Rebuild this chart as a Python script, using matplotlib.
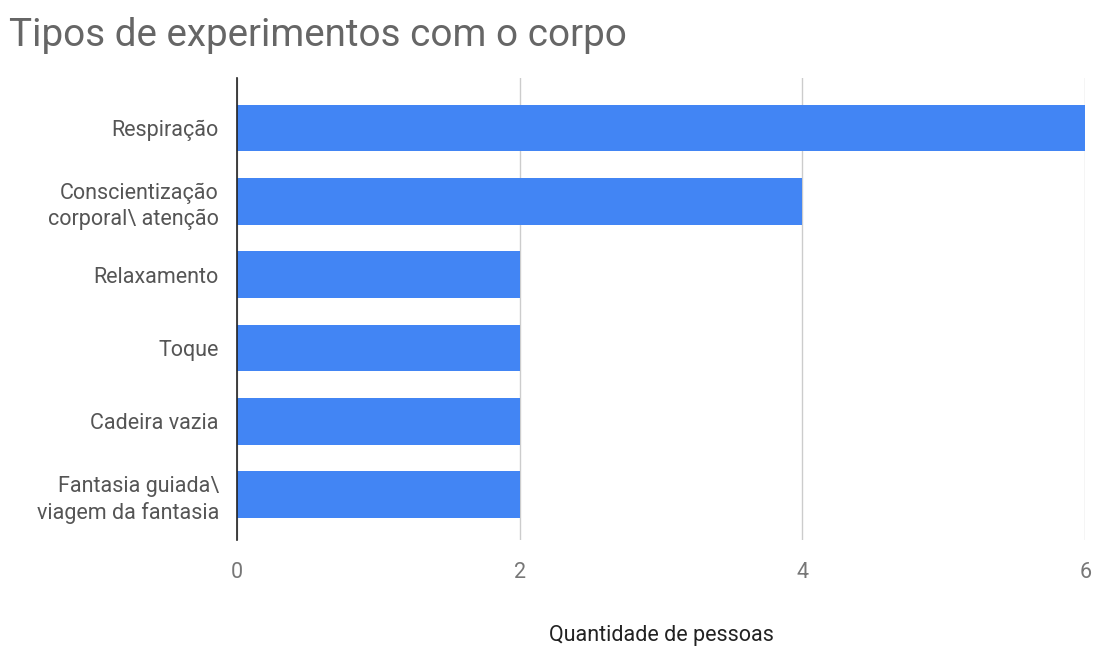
import matplotlib
matplotlib.use("Agg")
import matplotlib.pyplot as plt

# ── data ──────────────────────────────────────────────────────────────────────
categories = [
    "Respiração",
    "Conscientização\ncorporal\\ atenção",
    "Relaxamento",
    "Toque",
    "Cadeira vazia",
    "Fantasia guiada\\\nviagem da fantasia",
]
counts = [6, 4, 2, 2, 2, 2]
x_ticks = [0, 2, 4, 6]

# ── style ─────────────────────────────────────────────────────────────────────
C_BAR = "#4285F4"
C_GRID = "#cccccc"
C_LABEL = "#555555"
C_TITLE = "#666666"
plt.rcParams["font.family"] = ["Roboto", "DejaVu Sans"]

fig = plt.figure(figsize=(10.94, 6.46), dpi=100)
ax = fig.add_axes([0.2166, 0.164, 0.7754, 0.715])

ypos = list(range(len(categories)))
ax.barh(ypos, counts, height=0.64, color=C_BAR, zorder=3)

ax.set_xlim(0, 6)
ax.set_ylim(5.62, -0.68)
ax.set_yticks(ypos)
ax.set_yticklabels(categories, fontsize=15.5, color=C_LABEL, linespacing=1.3)
ax.set_xticks(x_ticks)
ax.set_xticklabels([str(t) for t in x_ticks], fontsize=15.5, color="#777777")
ax.tick_params(axis="both", length=0)
ax.tick_params(axis="y", pad=13)
ax.tick_params(axis="x", pad=16)

ax.grid(axis="x", color=C_GRID, linewidth=1, zorder=0)
for s in ["top", "right", "bottom"]:
    ax.spines[s].set_visible(False)
ax.spines["left"].set_color("#222222")
ax.spines["left"].set_linewidth(1.2)
ax.spines["left"].set_zorder(4)

ax.set_xlabel("Quantidade de pessoas", fontsize=15.5, color="#222222", labelpad=30)

fig.text(0.008, 0.945, "Tipos de experimentos com o corpo",
         fontsize=27.8, color=C_TITLE, ha="left", va="center")

fig.savefig("out.png", dpi=100)
